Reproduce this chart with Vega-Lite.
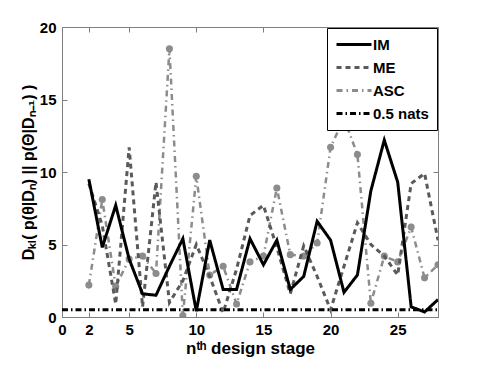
{
  "$schema": "https://vega.github.io/schema/vega-lite/v6.json",
  "width": 376,
  "height": 290,
  "autosize": "none",
  "padding": {"left": 62, "top": 27, "right": 47, "bottom": 48},
  "background": "white",
  "config": {
    "view": {"stroke": "#808080", "strokeWidth": 1},
    "font": "Liberation Sans",
    "axis": {
      "grid": false,
      "domainColor": "#808080",
      "tickColor": "#808080",
      "tickSize": -5,
      "labelFont": "Liberation Sans",
      "labelFontWeight": "bold",
      "labelFontSize": 15,
      "labelColor": "black",
      "titleFont": "Liberation Sans",
      "titleFontWeight": "bold",
      "titleFontSize": 16,
      "titleColor": "black",
      "labelFlush": false,
      "labelOverlap": false
    }
  },
  "data": {
    "values": [
      {"n": 2, "v": 9.5, "s": "IM"}, {"n": 3, "v": 4.8, "s": "IM"}, {"n": 4, "v": 7.7, "s": "IM"}, {"n": 5, "v": 4.0, "s": "IM"},
      {"n": 6, "v": 1.6, "s": "IM"}, {"n": 7, "v": 1.5, "s": "IM"}, {"n": 8, "v": 3.5, "s": "IM"}, {"n": 9, "v": 5.4, "s": "IM"},
      {"n": 10, "v": 0.4, "s": "IM"}, {"n": 11, "v": 5.3, "s": "IM"}, {"n": 12, "v": 1.9, "s": "IM"}, {"n": 13, "v": 1.9, "s": "IM"},
      {"n": 14, "v": 5.4, "s": "IM"}, {"n": 15, "v": 3.6, "s": "IM"}, {"n": 16, "v": 5.3, "s": "IM"}, {"n": 17, "v": 1.9, "s": "IM"},
      {"n": 18, "v": 2.8, "s": "IM"}, {"n": 19, "v": 6.6, "s": "IM"}, {"n": 20, "v": 5.3, "s": "IM"}, {"n": 21, "v": 1.7, "s": "IM"},
      {"n": 22, "v": 2.9, "s": "IM"}, {"n": 23, "v": 8.7, "s": "IM"}, {"n": 24, "v": 12.2, "s": "IM"}, {"n": 25, "v": 9.3, "s": "IM"},
      {"n": 26, "v": 0.7, "s": "IM"}, {"n": 27, "v": 0.35, "s": "IM"}, {"n": 28, "v": 1.2, "s": "IM"},
      {"n": 2, "v": 9.2, "s": "ME"}, {"n": 3, "v": 6.3, "s": "ME"}, {"n": 4, "v": 0.9, "s": "ME"}, {"n": 5, "v": 11.7, "s": "ME"},
      {"n": 6, "v": 0.7, "s": "ME"}, {"n": 7, "v": 9.3, "s": "ME"}, {"n": 8, "v": 1.0, "s": "ME"}, {"n": 9, "v": 2.5, "s": "ME"},
      {"n": 10, "v": 5.0, "s": "ME"}, {"n": 11, "v": 2.8, "s": "ME"}, {"n": 12, "v": 0.3, "s": "ME"}, {"n": 13, "v": 3.3, "s": "ME"},
      {"n": 14, "v": 7.0, "s": "ME"}, {"n": 15, "v": 7.7, "s": "ME"}, {"n": 16, "v": 4.8, "s": "ME"}, {"n": 17, "v": 1.6, "s": "ME"},
      {"n": 18, "v": 4.9, "s": "ME"}, {"n": 19, "v": 2.8, "s": "ME"}, {"n": 20, "v": 0.5, "s": "ME"}, {"n": 21, "v": 3.5, "s": "ME"},
      {"n": 22, "v": 6.5, "s": "ME"}, {"n": 23, "v": 5.0, "s": "ME"}, {"n": 24, "v": 4.2, "s": "ME"}, {"n": 25, "v": 2.9, "s": "ME"},
      {"n": 26, "v": 9.2, "s": "ME"}, {"n": 27, "v": 9.9, "s": "ME"}, {"n": 28, "v": 5.3, "s": "ME"},
      {"n": 2, "v": 2.2, "s": "ASC"}, {"n": 3, "v": 8.1, "s": "ASC"}, {"n": 4, "v": 2.1, "s": "ASC"}, {"n": 5, "v": 4.0, "s": "ASC"},
      {"n": 6, "v": 4.2, "s": "ASC"}, {"n": 7, "v": 3.0, "s": "ASC"}, {"n": 8, "v": 18.5, "s": "ASC"}, {"n": 9, "v": 0.1, "s": "ASC"},
      {"n": 10, "v": 9.7, "s": "ASC"}, {"n": 11, "v": 2.9, "s": "ASC"}, {"n": 12, "v": 3.5, "s": "ASC"}, {"n": 13, "v": 0.9, "s": "ASC"},
      {"n": 14, "v": 3.8, "s": "ASC"}, {"n": 15, "v": 4.2, "s": "ASC"}, {"n": 16, "v": 8.9, "s": "ASC"}, {"n": 17, "v": 4.3, "s": "ASC"},
      {"n": 18, "v": 4.2, "s": "ASC"}, {"n": 19, "v": 5.1, "s": "ASC"}, {"n": 20, "v": 11.7, "s": "ASC"}, {"n": 21, "v": 13.7, "s": "ASC"},
      {"n": 22, "v": 11.2, "s": "ASC"}, {"n": 23, "v": 0.95, "s": "ASC"}, {"n": 24, "v": 4.2, "s": "ASC"}, {"n": 25, "v": 3.8, "s": "ASC"},
      {"n": 26, "v": 6.2, "s": "ASC"}, {"n": 27, "v": 2.7, "s": "ASC"}, {"n": 28, "v": 3.6, "s": "ASC"},
      {"n": 0, "v": 0.5, "s": "0.5 nats"}, {"n": 28, "v": 0.5, "s": "0.5 nats"}
    ]
  },
  "layer": [
    {
      "transform": [{"filter": "datum.s === 'ASC'"}],
      "mark": {"type": "line", "strokeWidth": 2.5, "clip": true},
      "encoding": {
        "x": {"field": "n", "type": "quantitative", "scale": {"domain": [0, 28], "nice": false}, "axis": {"orient": "bottom", "values": [0, 2, 5, 10, 15, 20, 25], "labelPadding": 10, "title": "nᵗʰ design stage", "titlePadding": 3, "titleFontSize": 17}},
        "y": {"field": "v", "type": "quantitative", "scale": {"domain": [0, 20], "nice": false}, "axis": {"orient": "left", "values": [0, 5, 10, 15, 20], "labelPadding": 11, "title": "Dₖₗ( p(θ|Dₙ) || p(Θ|Dₙ₋₁) )", "titlePadding": 3}},
        "color": {"field": "s", "type": "nominal", "scale": {"domain": ["IM", "ME", "ASC", "0.5 nats"], "range": ["#000000", "#5a5a5a", "#8c8c8c", "#000000"]},
          "legend": {"orient": "top-right", "offset": 1, "title": null, "strokeColor": "black", "fillColor": "white", "padding": 8, "symbolType": "M-1,0H4", "symbolSize": 196, "symbolStrokeWidth": 3, "labelFont": "Liberation Sans", "labelFontWeight": "bold", "labelFontSize": 15, "labelColor": "black", "rowPadding": 6, "labelOffset": 21, "cornerRadius": 0}},
        "strokeDash": {"field": "s", "type": "nominal", "scale": {"domain": ["IM", "ME", "ASC", "0.5 nats"], "range": [[1, 0], [5, 4], [6, 4, 1.5, 4], [6, 3, 1.5, 3]]},
          "legend": {"orient": "top-right", "offset": 1, "title": null, "strokeColor": "black", "fillColor": "white", "padding": 8, "symbolType": "M-1,0H4", "symbolSize": 196, "symbolStrokeWidth": 3, "labelFont": "Liberation Sans", "labelFontWeight": "bold", "labelFontSize": 15, "labelColor": "black", "rowPadding": 6, "labelOffset": 21, "cornerRadius": 0}}
      }
    },
    {
      "transform": [{"filter": "datum.s === 'ASC'"}],
      "mark": {"type": "point", "filled": true, "opacity": 1, "size": 50, "color": "#8c8c8c", "shape": "circle", "clip": true},
      "encoding": {
        "x": {"field": "n", "type": "quantitative", "axis": null},
        "y": {"field": "v", "type": "quantitative", "axis": null}
      }
    },
    {
      "transform": [{"filter": "datum.s === 'ME'"}],
      "mark": {"type": "line", "strokeWidth": 3, "clip": true},
      "encoding": {
        "x": {"field": "n", "type": "quantitative", "axis": null},
        "y": {"field": "v", "type": "quantitative", "axis": null},
        "color": {"field": "s", "type": "nominal"},
        "strokeDash": {"field": "s", "type": "nominal"}
      }
    },
    {
      "transform": [{"filter": "datum.s === '0.5 nats'"}],
      "mark": {"type": "line", "strokeWidth": 3, "clip": true},
      "encoding": {
        "x": {"field": "n", "type": "quantitative", "axis": {"orient": "top", "values": [0, 2, 5, 10, 15, 20, 25], "labels": false, "title": null, "domain": false}},
        "y": {"field": "v", "type": "quantitative", "axis": {"orient": "right", "values": [0, 5, 10, 15, 20], "labels": false, "title": null, "domain": false}},
        "color": {"field": "s", "type": "nominal"},
        "strokeDash": {"field": "s", "type": "nominal"}
      }
    },
    {
      "transform": [{"filter": "datum.s === 'IM'"}],
      "mark": {"type": "line", "strokeWidth": 3, "clip": true},
      "encoding": {
        "x": {"field": "n", "type": "quantitative", "axis": null},
        "y": {"field": "v", "type": "quantitative", "axis": null},
        "color": {"field": "s", "type": "nominal"},
        "strokeDash": {"field": "s", "type": "nominal"}
      }
    }
  ],
  "resolve": {"axis": {"x": "independent", "y": "independent"}}
}
